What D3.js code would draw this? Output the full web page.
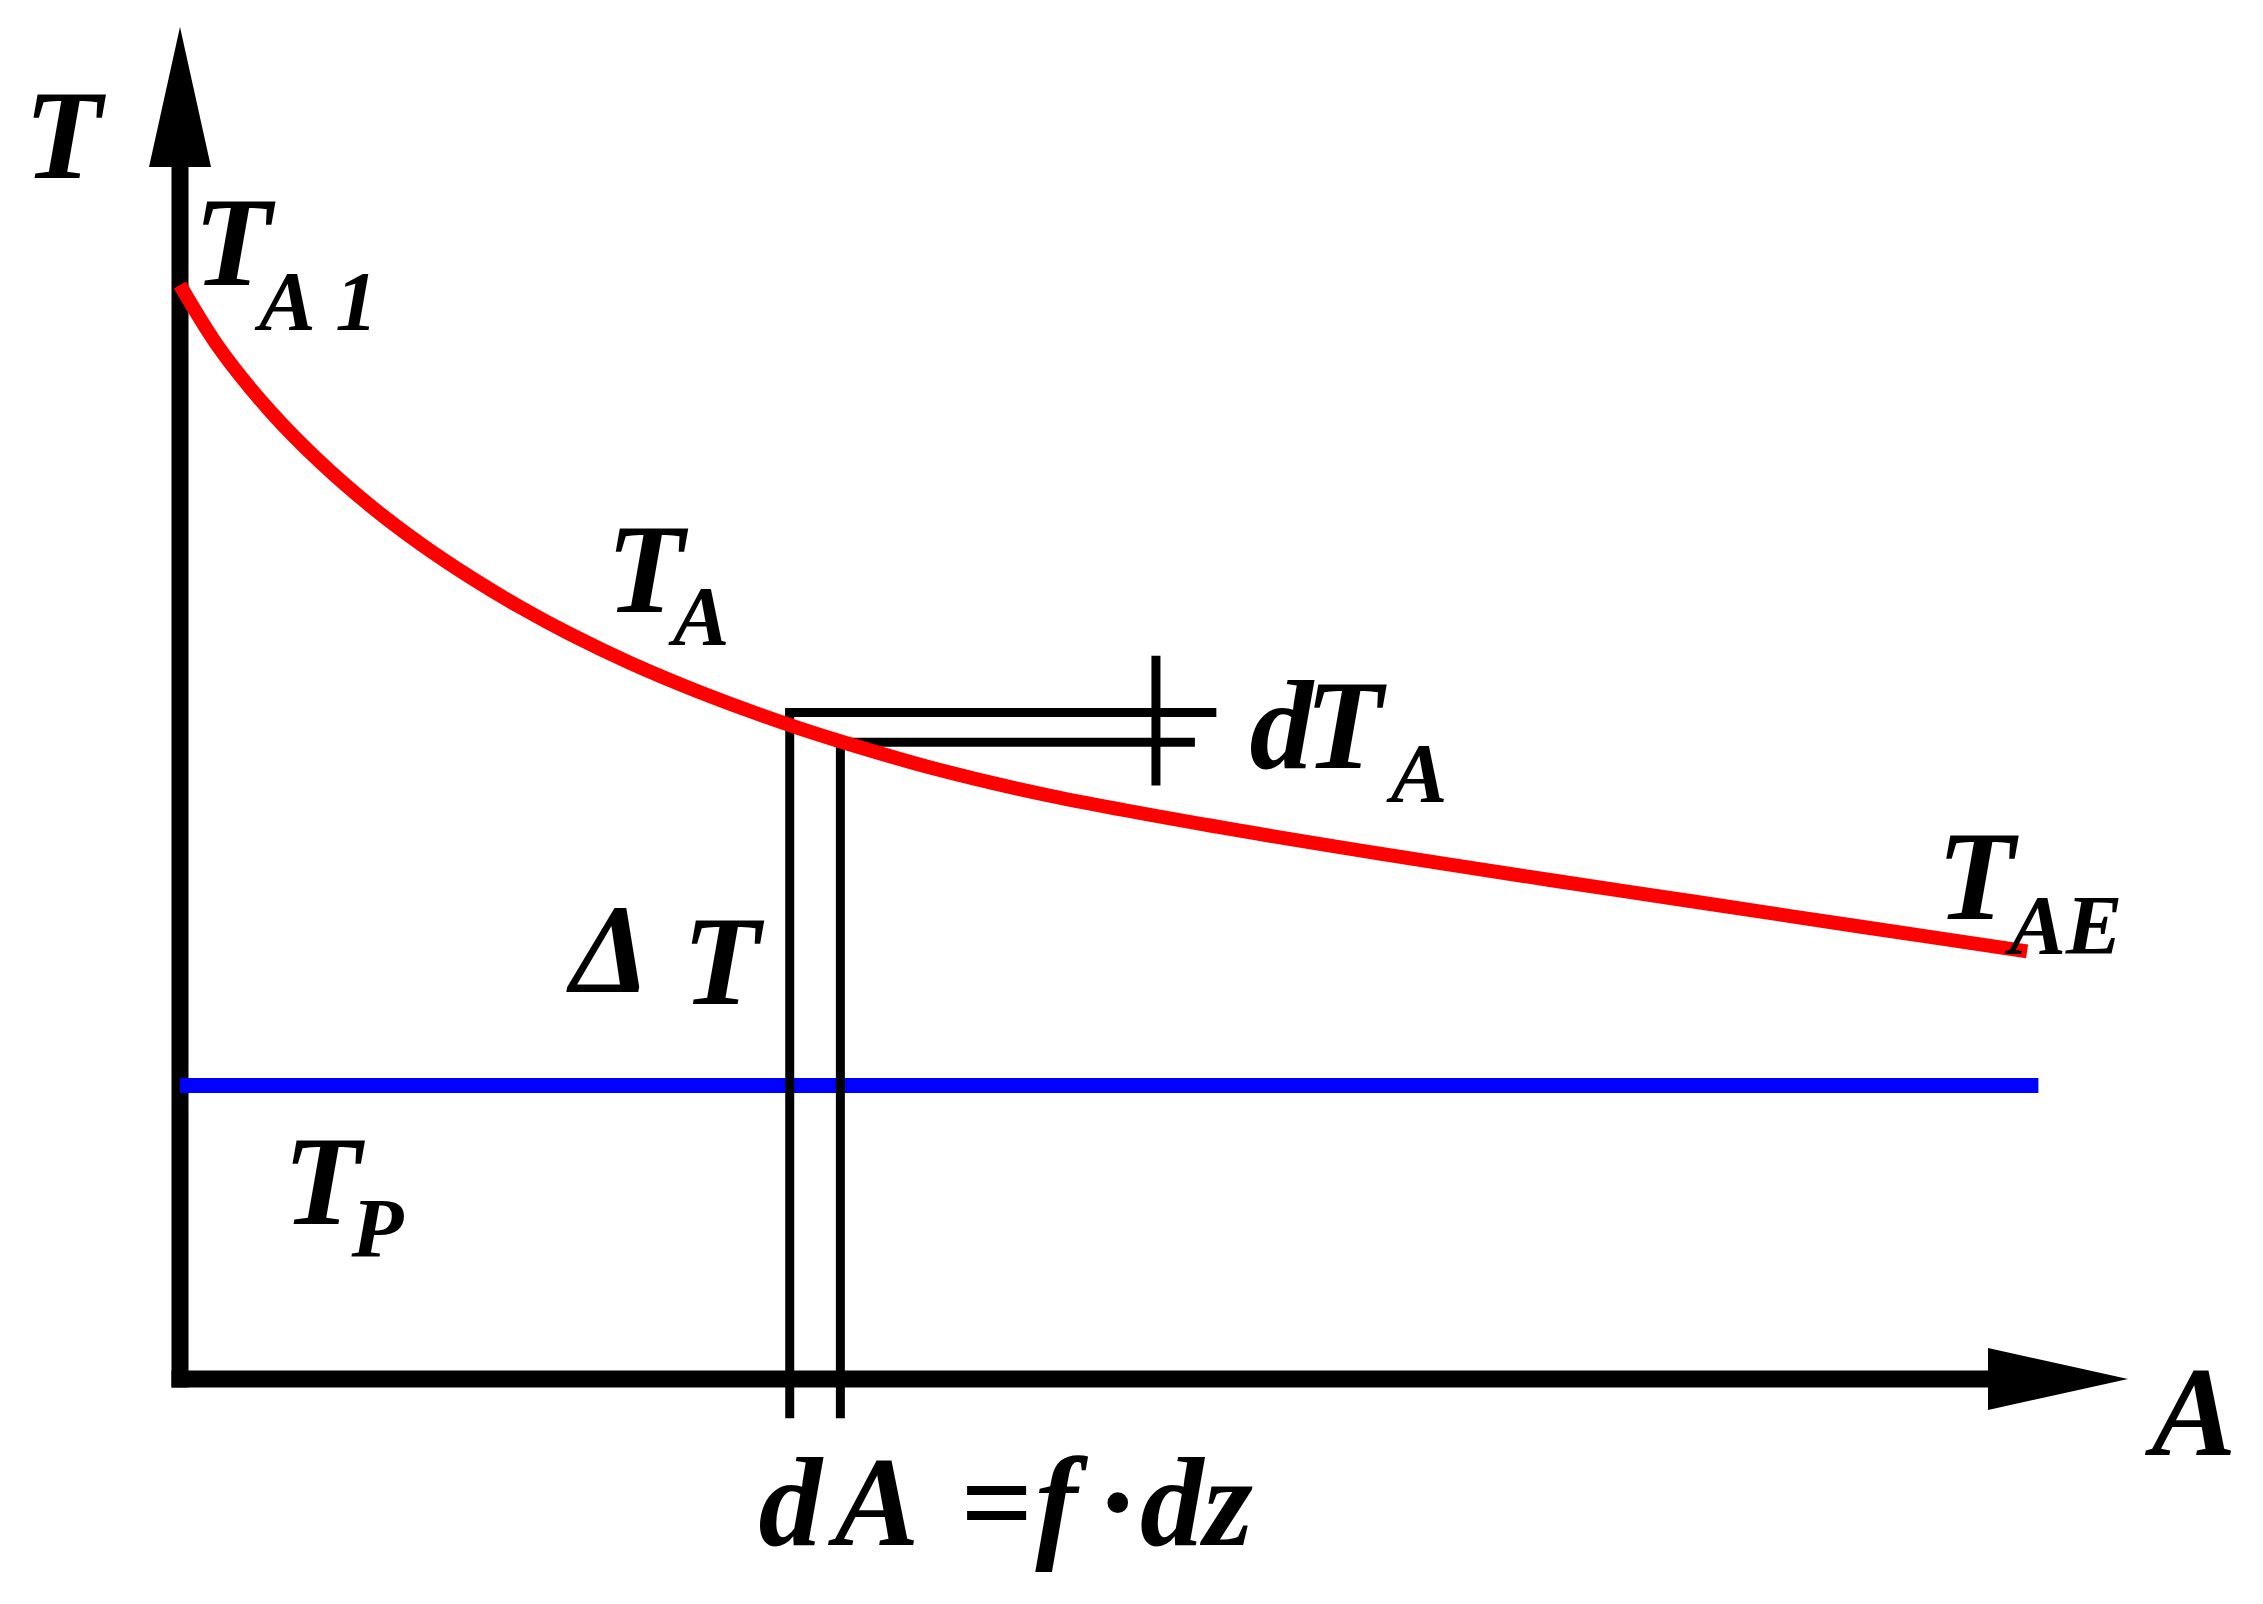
<!DOCTYPE html>
<html>
<head>
<meta charset="utf-8">
<script src="https://cdn.jsdelivr.net/npm/d3@7"></script>
<style>
  body { margin: 0; background: #fff; }
  text { font-family: "Liberation Serif", "Times New Roman", serif; font-style: italic; font-weight: bold; fill: #000; }
</style>
</head>
<body>
<div id="chart"></div>
<script>
// temperature T_A of the cooling stream along the area A
const areaA = [0, 2.05, 4.62, 7.19, 9.75, 12.32, 14.89, 17.45, 20.02, 23.1, 26.69, 31.31, 33.88, 38.66, 44.66, 53.23, 61.76, 70.33, 77.87, 86.4, 94.82];
const tempA = [80.92, 76.18, 71.6, 67.83, 64.61, 61.8, 59.32, 57.1, 55.1, 52.97, 50.8, 48.36, 47.17, 45.17, 43.14, 40.85, 38.82, 36.91, 35.28, 33.43, 31.63];

// constant temperature T_P
const tempP = 21.7;
const areaP = [0, 95.4];

// the strip dA: its two edges, the T level at each edge and how far the level lines reach
const stripA = [31.3, 33.9];
const stripT = [49.3, 47.1];
const stripReach = [53.2, 52.1];
const stripFoot = -2.9;
// small cross mark for dT_A
const markA = 50.1;
const markT = [43.9, 53.5];

const W = 2263, H = 1604;
const axisW = 17, headLen = 140, headHalf = 31;

const svg = d3.select("#chart").append("svg")
    .attr("width", W)
    .attr("height", H)
    .style("background", "#fff");

const x = d3.scaleLinear().domain([0, 100]).range([180, 2128]);
const y = d3.scaleLinear().domain([0, 100]).range([1379, 27]);

// axes with arrow heads
svg.append("line")
    .attr("x1", x(0) - axisW / 2).attr("x2", x(100) - headLen + 2)
    .attr("y1", y(0)).attr("y2", y(0))
    .attr("stroke", "#000").attr("stroke-width", axisW);
svg.append("line")
    .attr("x1", x(0)).attr("x2", x(0))
    .attr("y1", y(0) + axisW / 2).attr("y2", y(100) + headLen - 2)
    .attr("stroke", "#000").attr("stroke-width", axisW);

svg.append("path")
    .attr("d", `M${x(100)},${y(0)}L${x(100) - headLen},${y(0) - headHalf}L${x(100) - headLen},${y(0) + headHalf}Z`)
    .attr("fill", "#000");
svg.append("path")
    .attr("d", `M${x(0)},${y(100)}L${x(0) - headHalf},${y(100) + headLen}L${x(0) + headHalf},${y(100) + headLen}Z`)
    .attr("fill", "#000");

// T_P line
svg.append("line")
    .attr("x1", x(areaP[0])).attr("x2", x(areaP[1]))
    .attr("y1", y(tempP)).attr("y2", y(tempP))
    .attr("stroke", "#0000ff").attr("stroke-width", 15);

// strip dA
const thin = 9;
stripA.forEach((a, i) => {
    svg.append("line")
        .attr("x1", x(a)).attr("x2", x(a))
        .attr("y1", y(stripT[i]) - thin / 2).attr("y2", y(stripFoot))
        .attr("stroke", "#000").attr("stroke-width", thin);
    svg.append("line")
        .attr("x1", x(a) - thin / 2).attr("x2", x(stripReach[i]))
        .attr("y1", y(stripT[i])).attr("y2", y(stripT[i]))
        .attr("stroke", "#000").attr("stroke-width", thin);
});
svg.append("line")
    .attr("x1", x(markA)).attr("x2", x(markA))
    .attr("y1", y(markT[0])).attr("y2", y(markT[1]))
    .attr("stroke", "#000").attr("stroke-width", thin);

// T_A curve
const pts = areaA.map((a, i) => [a, tempA[i]]);
svg.append("path")
    .datum(pts)
    .attr("d", d3.line().x(d => x(d[0])).y(d => y(d[1])).curve(d3.curveCatmullRom.alpha(0.5)))
    .attr("fill", "none")
    .attr("stroke", "#ff0000")
    .attr("stroke-width", 14);

// labels, one text each: pieces of [text, A, T, size, upright?]
const big = 127, small = 85;
const labels = [
    [["T", -8.0, 88.8, big]],
    [["T", 0.7, 80.9, big], ["A", 4.06, 77.6, small], ["1", 7.97, 77.6, small]],
    [["T", 21.9, 56.7, big], ["A", 25.3, 54.3, small]],
    [["d", 54.9, 45.2, big], ["T", 57.75, 45.2, big], ["A", 62.15, 42.7, small]],
    [["T", 90.2, 34.0, big], ["AE", 93.9, 31.4, small]],
    [["Δ", 20.05, 28.6, big], ["T", 25.8, 27.7, big]],
    [["T", 5.3, 11.5, big], ["P", 8.8, 9.0, small]],
    [["A", 101.2, -5.6, big]],
    [["d", 29.7, -12.3, big], ["A", 33.6, -12.3, big], ["=", 40.08, -12.3, big, true],
     ["f", 43.9, -12.3, big], ["·", 47.28, -12.3, big], ["dz", 49.28, -12.3, big]]
];
labels.forEach(parts => {
    const el = svg.append("text");
    parts.forEach(([s, a, t, size, upright]) => {
        const sp = el.append("tspan")
            .attr("x", x(a))
            .attr("y", y(t))
            .attr("font-size", size)
            .text(s);
        if (upright) sp.style("font-style", "normal");
    });
});
</script>
</body>
</html>
